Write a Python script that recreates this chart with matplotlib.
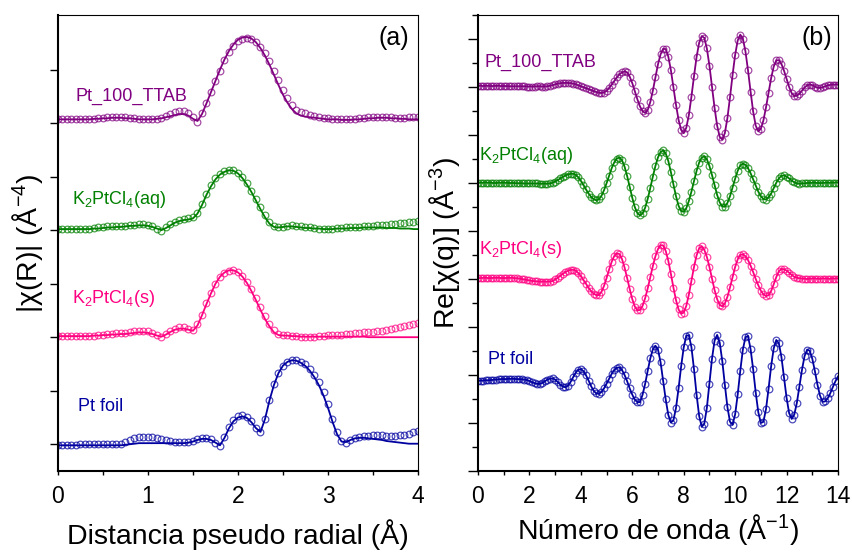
import numpy as np
import matplotlib
matplotlib.use("Agg")
from matplotlib import pyplot as plt
from matplotlib.ticker import MultipleLocator

plt.rcParams['font.family'] = ['Liberation Sans', 'DejaVu Sans']
plt.rcParams['mathtext.fontset'] = 'custom'
plt.rcParams['mathtext.rm'] = 'Liberation Sans'
plt.rcParams['mathtext.it'] = 'Liberation Sans:italic'

# |chi(R)| grid, 0 - 4 A in 0.05 steps
R = np.round(np.arange(0, 4.001, 0.05), 2)

ttab_R = [0.07, 0.07, 0.07, 0.08, 0.08, 0.08, 0.07, 0.07, 0.08, 0.09,
          0.10, 0.11, 0.12, 0.12, 0.12, 0.11, 0.10, 0.09, 0.08, 0.07,
          0.07, 0.07, 0.08, 0.10, 0.13, 0.17, 0.20, 0.22, 0.22, 0.19,
          0.11, 0.03, 0.18, 0.38, 0.58, 0.78, 0.98, 1.17, 1.32, 1.44,
          1.53, 1.58, 1.59, 1.57, 1.52, 1.43, 1.31, 1.16, 0.98, 0.80,
          0.62, 0.46, 0.33, 0.25, 0.20, 0.18, 0.16, 0.14, 0.12, 0.10,
          0.09, 0.08, 0.08, 0.07, 0.07, 0.07, 0.08, 0.09, 0.10, 0.11,
          0.12, 0.12, 0.12, 0.12, 0.11, 0.10, 0.10, 0.10, 0.11, 0.11,
          0.12]
ttab_R_fit = [0.07, 0.07, 0.07, 0.07, 0.07, 0.07, 0.07, 0.07, 0.08, 0.08,
              0.09, 0.09, 0.10, 0.10, 0.10, 0.09, 0.09, 0.08, 0.07, 0.07,
              0.07, 0.07, 0.08, 0.09, 0.11, 0.13, 0.15, 0.17, 0.17, 0.14,
              0.08, 0.04, 0.17, 0.37, 0.58, 0.79, 1.00, 1.19, 1.35, 1.47,
              1.56, 1.60, 1.61, 1.58, 1.51, 1.40, 1.26, 1.09, 0.90, 0.71,
              0.53, 0.38, 0.26, 0.18, 0.14, 0.12, 0.11, 0.10, 0.09, 0.08,
              0.07, 0.07, 0.07, 0.06, 0.06, 0.06, 0.07, 0.07, 0.08, 0.09,
              0.09, 0.10, 0.10, 0.10, 0.09, 0.09, 0.08, 0.08, 0.07, 0.07,
              0.07]

aq_R = [0.03, 0.03, 0.03, 0.03, 0.03, 0.03, 0.03, 0.03, 0.04, 0.05,
        0.06, 0.07, 0.07, 0.07, 0.08, 0.08, 0.09, 0.10, 0.11, 0.11,
        0.10, 0.08, 0.03, -0.01, 0.05, 0.11, 0.16, 0.19, 0.21, 0.22,
        0.24, 0.32, 0.48, 0.68, 0.84, 0.97, 1.05, 1.10, 1.13, 1.12,
        1.07, 0.99, 0.88, 0.74, 0.59, 0.43, 0.28, 0.15, 0.07, 0.05,
        0.06, 0.08, 0.09, 0.08, 0.07, 0.06, 0.05, 0.04, 0.03, 0.03,
        0.03, 0.03, 0.04, 0.04, 0.05, 0.05, 0.06, 0.06, 0.07, 0.08,
        0.08, 0.09, 0.10, 0.10, 0.11, 0.12, 0.13, 0.14, 0.15, 0.16,
        0.17]
aq_R_fit = [0.02, 0.02, 0.02, 0.02, 0.02, 0.02, 0.02, 0.02, 0.03, 0.03,
            0.04, 0.05, 0.05, 0.06, 0.06, 0.07, 0.08, 0.08, 0.09, 0.09,
            0.08, 0.06, 0.03, 0.00, 0.04, 0.09, 0.14, 0.17, 0.19, 0.20,
            0.22, 0.31, 0.47, 0.66, 0.82, 0.95, 1.04, 1.09, 1.12, 1.11,
            1.06, 0.97, 0.85, 0.71, 0.55, 0.39, 0.24, 0.12, 0.06, 0.05,
            0.06, 0.07, 0.07, 0.06, 0.05, 0.04, 0.04, 0.03, 0.03, 0.02,
            0.02, 0.02, 0.03, 0.03, 0.03, 0.04, 0.04, 0.04, 0.05, 0.05,
            0.05, 0.05, 0.05, 0.04, 0.04, 0.04, 0.03, 0.03, 0.03, 0.02,
            0.02]

solid_R = [0.03, 0.03, 0.02, 0.02, 0.02, 0.02, 0.02, 0.03, 0.03, 0.04,
           0.05, 0.06, 0.06, 0.07, 0.07, 0.08, 0.09, 0.11, 0.12, 0.12,
           0.11, 0.08, 0.04, 0.01, 0.06, 0.12, 0.16, 0.19, 0.19, 0.16,
           0.13, 0.24, 0.42, 0.63, 0.83, 1.00, 1.12, 1.20, 1.24, 1.25,
           1.22, 1.15, 1.04, 0.90, 0.74, 0.57, 0.40, 0.25, 0.13, 0.06,
           0.04, 0.04, 0.03, 0.02, 0.01, 0.01, 0.00, 0.00, 0.02, 0.03,
           0.04, 0.04, 0.05, 0.05, 0.06, 0.06, 0.07, 0.08, 0.09, 0.09,
           0.10, 0.11, 0.12, 0.13, 0.15, 0.17, 0.19, 0.21, 0.23, 0.25,
           0.26]
solid_R_fit = [0.02, 0.02, 0.02, 0.02, 0.02, 0.02, 0.02, 0.02, 0.03, 0.03,
               0.04, 0.04, 0.05, 0.05, 0.06, 0.06, 0.07, 0.08, 0.09, 0.09,
               0.08, 0.06, 0.03, 0.01, 0.05, 0.10, 0.14, 0.16, 0.16, 0.14,
               0.12, 0.22, 0.41, 0.62, 0.82, 1.00, 1.13, 1.21, 1.25, 1.25,
               1.21, 1.13, 1.01, 0.86, 0.69, 0.51, 0.34, 0.20, 0.09, 0.04,
               0.03, 0.03, 0.02, 0.02, 0.01, 0.01, 0.01, 0.01, 0.01, 0.01,
               0.01, 0.01, 0.01, 0.01, 0.01, 0.01, 0.01, 0.01, 0.01, 0.00,
               0.00, 0.00, 0.00, 0.00, 0.00, 0.00, 0.00, 0.00, 0.00, 0.00,
               0.00]

foil_R = [-0.01, -0.01, -0.01, -0.01, -0.01, 0.00, 0.00, 0.00, 0.00, 0.00,
          0.00, 0.00, 0.00, 0.00, 0.01, 0.04, 0.08, 0.11, 0.13, 0.14,
          0.14, 0.13, 0.11, 0.09, 0.07, 0.06, 0.05, 0.05, 0.04, 0.04,
          0.06, 0.09, 0.12, 0.12, 0.09, 0.03, -0.03, 0.13, 0.32, 0.45,
          0.52, 0.54, 0.51, 0.43, 0.31, 0.22, 0.48, 0.83, 1.12, 1.34,
          1.47, 1.54, 1.57, 1.57, 1.54, 1.49, 1.41, 1.30, 1.16, 0.98,
          0.75, 0.48, 0.23, 0.06, 0.03, 0.08, 0.12, 0.14, 0.15, 0.16,
          0.17, 0.17, 0.17, 0.16, 0.16, 0.16, 0.17, 0.18, 0.20, 0.22,
          0.24]
foil_R_fit = [-0.02, -0.02, -0.02, -0.02, -0.02, -0.02, -0.02, -0.02, -0.02, -0.02,
              -0.02, -0.02, -0.02, -0.02, -0.02, -0.01, 0.00, 0.01, 0.02, 0.02,
              0.02, 0.02, 0.02, 0.02, 0.02, 0.02, 0.02, 0.02, 0.02, 0.03,
              0.05, 0.08, 0.10, 0.10, 0.08, 0.03, -0.02, 0.12, 0.30, 0.43,
              0.50, 0.52, 0.49, 0.41, 0.30, 0.23, 0.47, 0.82, 1.11, 1.33,
              1.47, 1.54, 1.57, 1.56, 1.52, 1.46, 1.37, 1.25, 1.10, 0.91,
              0.68, 0.42, 0.19, 0.05, 0.04, 0.08, 0.11, 0.12, 0.12, 0.11,
              0.10, 0.09, 0.08, 0.06, 0.05, 0.04, 0.03, 0.02, 0.01, 0.01,
              0.01]

# Re[chi(q)] grid, 0 - 14 A^-1 in 0.1 steps
q = np.round(np.arange(0, 14.001, 0.1), 1)

ttab_q = [0.05, 0.05, 0.04, 0.05, 0.05, 0.04, 0.04, 0.05, 0.05, 0.04,
          0.04, 0.04, 0.03, 0.03, 0.03, 0.03, 0.03, 0.03, 0.03, 0.02,
          0.02, 0.02, 0.02, 0.03, 0.03, 0.02, 0.02, 0.03, 0.05, 0.08,
          0.11, 0.14, 0.16, 0.17, 0.17, 0.17, 0.16, 0.14, 0.11, 0.07,
          0.03, -0.01, -0.05, -0.09, -0.13, -0.17, -0.21, -0.24, -0.25, -0.23,
          -0.16, -0.04, 0.10, 0.25, 0.40, 0.53, 0.61, 0.65, 0.61, 0.43,
          0.16, -0.18, -0.52, -0.81, -1.01, -1.08, -0.96, -0.63, -0.15, 0.41,
          0.95, 1.36, 1.59, 1.58, 1.27, 0.71, 0.00, -0.74, -1.37, -1.79,
          -1.92, -1.70, -1.17, -0.40, 0.45, 1.25, 1.84, 2.12, 2.05, 1.61,
          0.89, 0.02, -0.87, -1.61, -2.08, -2.19, -1.92, -1.29, -0.43, 0.50,
          1.34, 1.94, 2.18, 2.02, 1.49, 0.70, -0.19, -1.02, -1.61, -1.85,
          -1.74, -1.39, -0.85, -0.23, 0.37, 0.85, 1.11, 1.12, 0.96, 0.68,
          0.34, 0.00, -0.26, -0.38, -0.36, -0.28, -0.15, -0.02, 0.07, 0.10,
          0.08, 0.02, -0.03, -0.04, -0.01, 0.03, 0.07, 0.09, 0.10, 0.10,
          0.10]

aq_q = [0.01, 0.01, 0.01, 0.02, 0.01, 0.01, 0.00, 0.00, 0.01, 0.01,
        0.01, 0.01, 0.00, 0.00, 0.00, -0.01, -0.01, -0.01, -0.02, -0.02,
        -0.02, -0.02, -0.02, -0.02, -0.03, -0.03, -0.03, -0.03, -0.02, 0.01,
        0.06, 0.12, 0.19, 0.26, 0.31, 0.36, 0.38, 0.39, 0.34, 0.24,
        0.09, -0.08, -0.27, -0.44, -0.58, -0.68, -0.72, -0.68, -0.54, -0.30,
        -0.01, 0.31, 0.62, 0.86, 1.02, 1.06, 0.95, 0.68, 0.29, -0.17,
        -0.62, -1.01, -1.26, -1.35, -1.27, -1.03, -0.66, -0.21, 0.27, 0.71,
        1.07, 1.29, 1.36, 1.23, 0.92, 0.46, -0.06, -0.55, -0.95, -1.17,
        -1.20, -1.05, -0.75, -0.36, 0.08, 0.50, 0.85, 1.06, 1.11, 0.99,
        0.71, 0.33, -0.09, -0.50, -0.81, -0.98, -0.99, -0.83, -0.55, -0.19,
        0.18, 0.51, 0.73, 0.81, 0.76, 0.62, 0.41, 0.15, -0.11, -0.36,
        -0.55, -0.67, -0.69, -0.60, -0.44, -0.22, 0.01, 0.19, 0.30, 0.32,
        0.27, 0.19, 0.10, 0.03, -0.02, -0.03, -0.02, -0.01, 0.00, 0.00,
        0.01, 0.01, 0.00, 0.00, 0.00, 0.01, 0.01, 0.01, 0.01, 0.02,
        0.02]

solid_q = [0.04, 0.04, 0.05, 0.05, 0.04, 0.04, 0.05, 0.05, 0.05, 0.04,
           0.04, 0.04, 0.05, 0.05, 0.04, 0.03, 0.02, 0.00, -0.02, -0.04,
           -0.06, -0.08, -0.09, -0.10, -0.11, -0.11, -0.11, -0.11, -0.11, -0.08,
           -0.02, 0.05, 0.13, 0.22, 0.29, 0.35, 0.38, 0.39, 0.35, 0.25,
           0.12, -0.04, -0.20, -0.37, -0.51, -0.61, -0.67, -0.67, -0.54, -0.29,
           0.04, 0.40, 0.72, 0.96, 1.07, 1.04, 0.83, 0.48, 0.04, -0.42,
           -0.84, -1.15, -1.31, -1.29, -1.12, -0.80, -0.39, 0.08, 0.54, 0.95,
           1.25, 1.41, 1.40, 1.17, 0.76, 0.22, -0.36, -0.88, -1.27, -1.45,
           -1.40, -1.12, -0.65, -0.08, 0.50, 0.98, 1.28, 1.36, 1.22, 0.92,
           0.50, 0.01, -0.46, -0.84, -1.08, -1.14, -1.02, -0.74, -0.35, 0.08,
           0.50, 0.82, 1.01, 1.03, 0.95, 0.79, 0.56, 0.29, 0.00, -0.26,
           -0.49, -0.64, -0.71, -0.68, -0.50, -0.22, 0.08, 0.32, 0.42, 0.41,
           0.35, 0.26, 0.17, 0.09, 0.05, 0.03, 0.02, 0.01, 0.00, 0.01,
           0.02, 0.02, 0.01, 0.01, 0.02, 0.02, 0.01, 0.01, 0.02, 0.02,
           0.02]

foil_q = [-0.24, -0.24, -0.23, -0.22, -0.22, -0.21, -0.20, -0.19, -0.18, -0.17,
          -0.17, -0.17, -0.16, -0.16, -0.16, -0.17, -0.17, -0.18, -0.19, -0.21,
          -0.25, -0.30, -0.34, -0.37, -0.37, -0.33, -0.26, -0.19, -0.15, -0.14,
          -0.19, -0.29, -0.40, -0.48, -0.51, -0.44, -0.29, -0.09, 0.10, 0.22,
          0.25, 0.16, -0.01, -0.23, -0.47, -0.66, -0.77, -0.78, -0.71, -0.56,
          -0.36, -0.15, 0.05, 0.21, 0.30, 0.32, 0.21, 0.00, -0.26, -0.56,
          -0.82, -1.03, -1.13, -1.13, -0.82, -0.37, 0.18, 0.69, 1.07, 1.22,
          1.06, 0.53, -0.23, -1.02, -1.66, -1.98, -1.89, -1.37, -0.56, 0.36,
          1.15, 1.63, 1.66, 1.16, 0.24, -0.82, -1.70, -2.16, -2.03, -1.37,
          -0.36, 0.68, 1.43, 1.67, 1.35, 0.58, -0.41, -1.34, -1.95, -2.07,
          -1.64, -0.81, 0.18, 1.06, 1.57, 1.63, 1.08, 0.24, -0.73, -1.55,
          -2.00, -1.95, -1.42, -0.57, 0.37, 1.11, 1.46, 1.32, 0.75, -0.09,
          -0.95, -1.59, -1.83, -1.65, -1.16, -0.48, 0.22, 0.79, 1.06, 1.01,
          0.68, 0.17, -0.40, -0.86, -1.12, -1.10, -0.97, -0.76, -0.50, -0.26,
          -0.06]

names = ['Pt_100_TTAB', r'K$_\mathregular{2}$PtCl$_\mathregular{4}$(aq)',
         r'K$_\mathregular{2}$PtCl$_\mathregular{4}$(s)', 'Pt foil']
colors = ['#800080', '#008000', '#FF0080', '#0000A0']

fig = plt.figure(figsize=(8.53, 5.52), dpi=100)
ax1 = fig.add_axes([58 / 853, 81 / 552, 360 / 853, 456 / 552])
ax2 = fig.add_axes([478 / 853, 81 / 552, 360 / 853, 456 / 552])


def draw(ax, x, data, fit, off, c):
    ax.plot(x, np.array(data) + off, ls='none', marker='o', ms=4.8, mfc='none',
            mec=c, mew=0.9, alpha=0.7)
    ax.plot(x, np.array(fit) + off, color=c, lw=1.3)


# panel (a): spacing of 2 between curves
r_data = [ttab_R, aq_R, solid_R, foil_R]
r_fit = [ttab_R_fit, aq_R_fit, solid_R_fit, foil_R_fit]
for i, off in enumerate([6, 4, 2, 0]):
    draw(ax1, R, r_data[i], r_fit[i], off, colors[i])

# panel (b): spacing of 4 between curves
q_data = [ttab_q, aq_q, solid_q, foil_q]
for i, off in enumerate([12, 8, 4, 0]):
    draw(ax2, q, q_data[i], q_data[i], off, colors[i])

lab_a = [(0.19, 6.5), (0.16, 4.58), (0.16, 2.73), (0.22, 0.71)]
lab_b = [(0.27, 13.04), (0.02, 9.13), (0.02, 5.25), (0.39, 0.63)]
for i in range(4):
    ax1.text(lab_a[i][0], lab_a[i][1], names[i], color=colors[i], fontsize=13,
             va='center', ha='left')
    ax2.text(lab_b[i][0], lab_b[i][1], names[i], color=colors[i], fontsize=13,
             va='center', ha='left')

ax1.text(0.975, 0.975, '(a)', transform=ax1.transAxes, fontsize=18, ha='right', va='top')
ax2.text(0.985, 0.975, '(b)', transform=ax2.transAxes, fontsize=18, ha='right', va='top')

ax1.set_xlim(0, 4)
ax1.set_ylim(-0.5, 8.02)
ax1.xaxis.set_major_locator(MultipleLocator(1))
ax1.xaxis.set_minor_locator(MultipleLocator(0.5))
ax1.set_yticks(range(0, 8))
ax1.tick_params(axis='y', which='major', length=6, width=1, labelleft=False)
ax1.tick_params(axis='x', which='both', length=3, width=1, labelsize=16.5, pad=7)
ax1.set_xlabel('Distancia pseudo radial (Å)', fontsize=20.5, labelpad=8)
ax1.set_ylabel(r'|χ(R)| (Å$^\mathregular{-4}$)', fontsize=20.5, labelpad=3)

ax2.set_xlim(0, 14)
ax2.set_ylim(-4, 15)
ax2.xaxis.set_major_locator(MultipleLocator(2))
ax2.xaxis.set_minor_locator(MultipleLocator(1))
ax2.yaxis.set_major_locator(MultipleLocator(2))
ax2.yaxis.set_minor_locator(MultipleLocator(1))
ax2.tick_params(axis='y', which='major', length=7.5, width=1, labelleft=False)
ax2.tick_params(axis='y', which='minor', length=4, width=1)
ax2.tick_params(axis='x', which='both', length=3, width=1, labelsize=16.5, pad=7)
ax2.set_xlabel(r'Número de onda (Å$^\mathregular{-1}$)', fontsize=20.5, labelpad=3)
ax2.set_ylabel(r'Re[χ(q)] (Å$^\mathregular{-3}$)', fontsize=20.5, labelpad=4)

for ax in (ax1, ax2):
    ax.tick_params(which='both', direction='out')
    for s in ('left', 'bottom'):
        ax.spines[s].set_linewidth(1.5)
    for s in ('top', 'right'):
        ax.spines[s].set_linewidth(0.8)

fig.savefig('out.png', dpi=100)
